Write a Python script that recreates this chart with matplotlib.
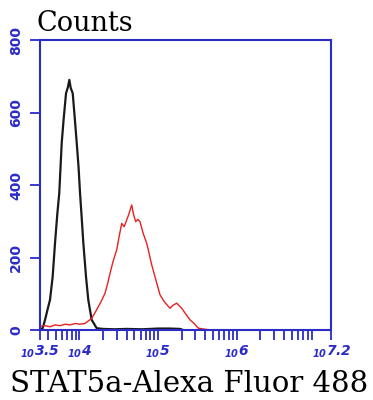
import numpy as np
import matplotlib
matplotlib.use("Agg")
import matplotlib.pyplot as plt
from matplotlib.ticker import FixedLocator, LogLocator, NullFormatter

# isotype control (black) - log10 intensity and counts
ctrl_log = [3.50, 3.534, 3.564, 3.60, 3.627, 3.661, 3.691, 3.72, 3.745, 3.776,
            3.80, 3.831, 3.855, 3.873, 3.89, 3.916, 3.94, 3.967, 3.99, 4.009,
            4.03, 4.051, 4.085, 4.114, 4.157, 4.221, 4.30, 4.45, 4.60, 4.80,
            5.00, 5.15, 5.28, 5.32]
ctrl_counts = [0, 5, 28, 60, 83, 147, 240, 320, 378, 516,
               580, 653, 670, 690, 668, 653, 590, 516, 450, 378,
               310, 240, 147, 83, 28, 5, 3, 2, 3, 2,
               4, 4, 3, 0]

# STAT5a stained sample (red)
stat_log = [3.50, 3.56, 3.627, 3.69, 3.754, 3.82, 3.881, 3.95, 4.009, 4.072,
            4.157, 4.20, 4.241, 4.28, 4.326, 4.36, 4.390, 4.43, 4.475, 4.51,
            4.539, 4.57, 4.602, 4.63, 4.666, 4.69, 4.717, 4.745, 4.771, 4.81,
            4.857, 4.877, 4.92, 4.962, 5.026, 5.08, 5.153, 5.19, 5.238, 5.302,
            5.35, 5.407, 5.46, 5.513, 5.60, 5.683]
stat_counts = [10, 12, 9, 14, 12, 16, 14, 18, 16, 18,
               32, 48, 64, 80, 101, 128, 156, 190, 221, 262,
               294, 285, 303, 320, 345, 318, 299, 305, 299, 268,
               239, 221, 180, 147, 97, 78, 60, 68, 74, 60,
               45, 28, 18, 5, 2, 0]

x_ticks_log = [3.5, 4, 5, 6, 7.2]
x_tick_labels = ["3.5", "4", "5", "6", "7.2"]
y_ticks = [0, 200, 400, 600, 800]

blue = "#2b2bc8"

plt.rcParams["mathtext.fontset"] = "custom"
plt.rcParams["mathtext.rm"] = "DejaVu Sans:italic:bold"
plt.rcParams["mathtext.it"] = "DejaVu Sans:italic:bold"
plt.rcParams["mathtext.default"] = "rm"

fig = plt.figure(figsize=(3.73, 4.0), dpi=100)
ax = fig.add_axes([40 / 373, 70 / 400, 291 / 373, 290 / 400])

ax.plot(10 ** np.array(ctrl_log), ctrl_counts, color="#1a1a1a", lw=1.6)
ax.plot(10 ** np.array(stat_log), stat_counts, color="#e82020", lw=1.0)

ax.set_xscale("log")
ax.set_xlim(10 ** 3.5, 10 ** 7.2)
ax.set_ylim(0, 800)

ax.xaxis.set_major_locator(FixedLocator([10 ** v for v in x_ticks_log]))
ax.set_xticklabels([r"$_{10}%s$" % s for s in x_tick_labels])
ax.xaxis.set_minor_locator(LogLocator(base=10, subs=np.arange(2, 10)))
ax.xaxis.set_minor_formatter(NullFormatter())

ax.set_yticks(y_ticks)
ax.set_yticklabels([str(v) for v in y_ticks], rotation=90, va="center",
                   fontsize=10, fontweight="bold", color=blue)

for lab in ax.get_xticklabels():
    lab.set_color(blue)
    lab.set_fontsize(10)

ax.tick_params(axis="x", which="both", direction="out", length=7, width=1.3,
               color=blue, pad=3)
ax.tick_params(axis="y", which="major", direction="out", length=7, width=1.3,
               color=blue, pad=5)

for sp in ax.spines.values():
    sp.set_color(blue)
    sp.set_linewidth(1.5)

fig.text(37 / 373, 1 - 31 / 400, "Counts", family="DejaVu Serif",
         fontsize=19.5, va="baseline", ha="left")
fig.text(10 / 373, 1 - 392 / 400, "STAT5a-Alexa Fluor 488", family="DejaVu Serif",
         fontsize=21, va="baseline", ha="left")

fig.savefig("out.png", dpi=100)
